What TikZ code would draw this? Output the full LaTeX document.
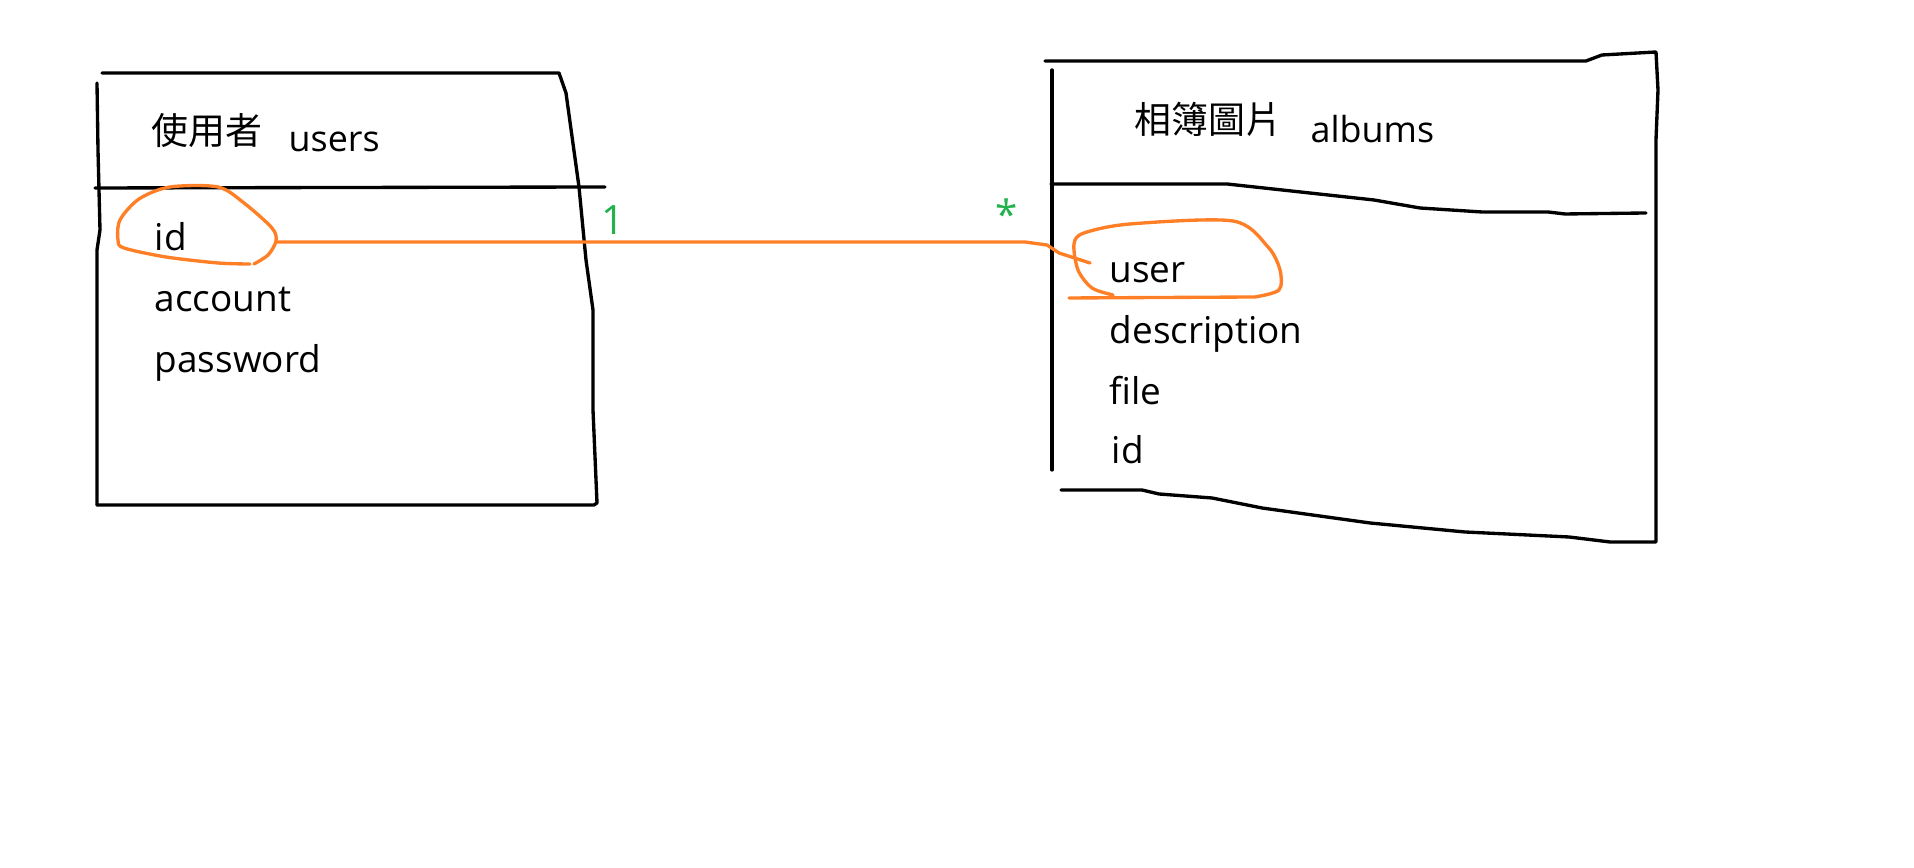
\documentclass[tikz,border=0pt]{standalone}
\usepackage{fontspec}
\setmainfont{Open Sans}
\newfontfamily\cjk{Noto Sans CJK TC}
\usetikzlibrary{positioning}
\definecolor{penorange}{RGB}{255,127,39}
\definecolor{pengreen}{RGB}{34,177,76}

\begin{document}
\begin{tikzpicture}[x=0.01cm,y=-0.01cm,
  pen/.style={line width=0.95pt,line cap=round,line join=round},
  marker/.style={pen,draw=penorange},
  field/.style={anchor=base west,inner sep=0pt,font=\fontsize{10.5}{12}\selectfont},
  title/.style={anchor=base west,inner sep=0pt,font=\fontsize{10.2}{12}\selectfont},
  mult/.style={inner sep=0pt,text=pengreen,font=\fontsize{11.5}{13}\selectfont}]
\useasboundingbox (0,0) rectangle (1914,868);
% users table
\draw[pen] (102,73) -- (559,73) -- (566,93) -- (579,187) -- (586,260) -- (593,310) -- (593,410) -- (597,503) -- (594,505) -- (97,505);
\draw[pen] (97,83) -- (98,150) -- (100,230) -- (97,250) -- (97,505);
\draw[pen] (95,188) -- (605,187);
\node[title,font=\cjk\fontsize{10.5}{12}\selectfont] (utitle) at (151,145) {使用者};
\node[title] (uname) at (288,152) {users};
\node[field] (uid) at (154,251) {id};
\node[field] (uacc) at (154,312) {account};
\node[field] (upwd) at (154,373) {password};
% albums table
\draw[pen] (1045,61) -- (1586,61) -- (1602,55) -- (1656,52) -- (1658,90) -- (1656,140) -- (1656,542) -- (1610,542) -- (1569,537) -- (1465,532) -- (1370,523) -- (1262,508) -- (1212,498) -- (1159,494) -- (1142,490) -- (1061,490);
\draw[pen] (1052,70) -- (1052,470);
\draw[pen] (1051,184) -- (1227,184) -- (1374,200) -- (1420,208) -- (1482,212) -- (1548,212) -- (1565,214) -- (1646,213);
\node[title,font=\cjk\fontsize{10.5}{12}\selectfont] (atitle) at (1134,134) {相簿圖片};
\node[title] (aname) at (1310,143) {albums};
\node[field] (auser) at (1109,283) {user};
\node[field] (adesc) at (1109,344) {description};
\node[field] (afile) at (1109,405) {file};
\node[field] (aid) at (1111,464) {id};
% relation
\draw[marker] plot[smooth,tension=0.5] coordinates {(254,264) (268,255) (276,241) (272,228) (244,203) (218,187) (170,187) (139,199) (120,220) (118,240) (124,248) (166,257) (218,263) (250,264)};
\draw[marker] (1069,298) -- (1255,297) plot[smooth,tension=0.5] coordinates {(1255,297) (1279,290) (1280,270) (1268,247) (1233,221) (1130,224) (1084,233) (1074,244) (1078,270) (1092,288) (1113,295)};
\coordinate (idtip) at (276,242);
\coordinate (usertip) at (1090,263);
\draw[marker] (idtip) -- (1025,242) -- (1047,245) -- (1059,253) -- (usertip);
\node[mult] (one) at (613,220) {1};
\node[mult] (many) at (1007,214) {*};
\end{tikzpicture}
\end{document}
